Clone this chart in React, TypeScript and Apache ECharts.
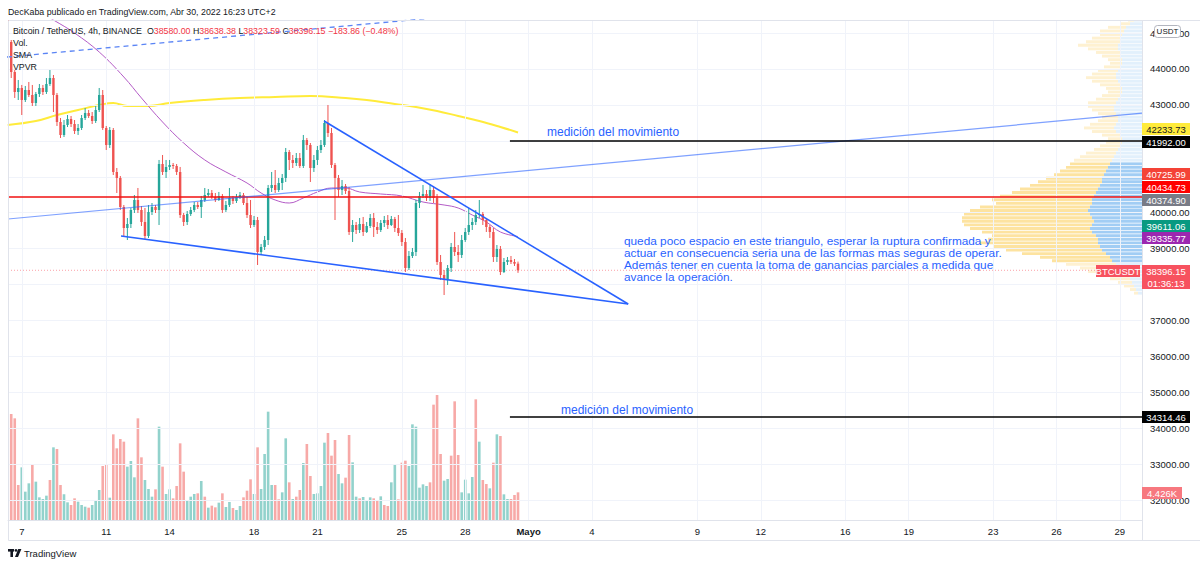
import React, { useEffect, useRef } from "react";
import * as echarts from "echarts";

// ---------- DATA (4h candles, index 0 = Apr 6 08:00) ----------
const FIRST_OPEN = 45420;
const closes = [
  44752, 43917, 43360, 43471, 43137, 43415, 43276, 43054, 43304, 43471,
  43360, 43582, 43749, 43276, 42524, 42163, 42441, 42608, 42469, 42274,
  42357, 42636, 42775, 42692, 42552, 42859, 43276, 42357, 41884, 42302,
  41133, 40966, 40158, 39573, 39685, 40075, 40353, 40075, 39741, 39351,
  40019, 40158, 40075, 41355, 41133, 41272, 41327, 41300, 41133, 39935,
  39741, 39963, 40075, 40214, 40158, 40353, 40492, 40548, 40437, 40353,
  40465, 40075, 40214, 40409, 40325, 40437, 40492, 40269, 39935, 39657,
  39796, 38905, 39045, 39239, 40687, 40771, 40631, 40826, 40966, 41689,
  41467, 41383, 41522, 41300, 42023, 41884, 41244, 41467, 41745, 41884,
  42497, 42218, 41327, 40966, 40631, 40743, 40604, 39462, 39657, 39518,
  39685, 39462, 39629, 39852, 39601, 39518, 39713, 39796, 39657, 39824,
  39573, 39434, 39184, 38460, 38794, 38905, 40269, 40465, 40520, 40409,
  40631, 40409, 38627, 38265, 38154, 38460, 39045, 38905, 38822, 39239,
  39462, 39657, 39741, 39935, 39963, 39796, 39601, 39462, 38766, 38989,
  38348, 38627, 38683, 38627, 38580, 38396.15,
];
const highs = [
  45503, 44807, 43972, 43694, 43555, 43527, 43638, 43555, 43360, 43582,
  43555, 43749, 43972, 43833, 43332, 42636, 42580, 42719, 42692, 42580,
  42469, 42719, 42914, 42859, 42803, 42970, 43471, 43415, 42413, 42385,
  42357, 41244, 41021, 40214, 39852, 40130, 40492, 40687, 40186, 40130,
  40214, 40269, 40214, 41467, 41606, 41467, 41467, 41383, 41355, 41272,
  39991, 40047, 40158, 40297, 40297, 40465, 40687, 40659, 40631, 40548,
  40576, 40520, 40325, 40687, 40465, 40520, 40576, 40548, 40437, 40353,
  39908, 39880, 39128, 39351, 40771, 41133, 41188, 40966, 41077, 41801,
  41745, 41606, 41661, 41661, 42163, 42079, 41940, 41606, 41856, 42023,
  42580, 42998, 42357, 41383, 41049, 40910, 40798, 40715, 39796, 39741,
  39852, 39880, 39741, 39963, 39991, 39741, 39796, 39908, 39935, 39908,
  39880, 39935, 39518, 39295, 38933, 39017, 40353, 40576, 40771, 40631,
  40798, 40743, 40520, 38822, 38404, 38543, 39156, 39462, 39100, 39379,
  39573, 40130, 39852, 40075, 40353, 40019, 39852, 39657, 39573, 39100,
  39072, 38738, 38766, 38794, 38710, 38638.38,
];
const lows = [
  44585, 43749, 43193, 43137, 42719, 43081, 43221, 42970, 42970, 43221,
  43276, 43304, 43527, 42803, 42413, 42079, 42107, 42385, 42385, 42190,
  42163, 42302, 42580, 42636, 42469, 42497, 42803, 42302, 41745, 41801,
  41049, 40548, 40075, 39323, 39239, 39573, 39991, 39991, 39629, 39267,
  39295, 39935, 39991, 39657, 41049, 40966, 41188, 41216, 41049, 39852,
  39629, 39657, 39908, 40019, 40102, 39852, 40297, 40437, 40381, 40297,
  40325, 39991, 40019, 40158, 40242, 40269, 40381, 40214, 39852, 39573,
  39601, 38543, 38850, 38961, 39100, 40576, 40548, 40576, 40631, 40854,
  41188, 41244, 41300, 41244, 41244, 41745, 40854, 41133, 41327, 41661,
  41829, 42107, 41244, 39796, 40437, 40492, 40520, 39379, 39184, 39406,
  39434, 39351, 39434, 39573, 39323, 39406, 39462, 39601, 39546, 39629,
  39462, 39351, 39072, 38348, 38404, 38738, 38794, 40130, 40409, 40325,
  40325, 40269, 38543, 38126, 37708, 37987, 38348, 38794, 38627, 38738,
  39184, 39379, 39518, 39657, 39852, 39657, 39462, 39295, 38627, 38627,
  38265, 38320, 38543, 38571, 38516, 38323.59,
];
const volumes = [
  7733, 16960, 16267, 5600, 8427, 4533, 5867, 8800, 6133, 3627,
  3360, 3893, 6400, 11627, 11360, 5600, 4107, 2827, 2400, 3467,
  2933, 2400, 2133, 1973, 2400, 3040, 4800, 8640, 8800, 3573,
  13707, 11467, 12960, 12533, 8533, 9440, 6827, 16267, 10027, 6400,
  4960, 3733, 4907, 14933, 8533, 4160, 4907, 3467, 5440, 12267,
  7733, 3200, 3733, 4160, 4267, 6240, 3733, 1973, 2293, 2027,
  2773, 4267, 2080, 2880, 1920, 1600, 2240, 3627, 4693, 6507,
  4160, 11627, 4960, 10560, 17333, 5600, 5600, 3307, 4427, 13067,
  6027, 3360, 3733, 4800, 9120, 12160, 7040, 4160, 4267, 5440,
  12373, 13920, 10293, 12800, 7360, 5867, 6773, 13600, 9227, 3733,
  3467, 3680, 3200, 3627, 3467, 3040, 3787, 2400, 2240, 6027,
  8960, 3307, 9173, 9493, 8640, 15307, 14933, 5173, 5707, 5440,
  6027, 18453, 20000, 10560, 6293, 6560, 10293, 18987, 10400, 4427,
  6453, 4267, 6880, 19307, 12533, 6400, 5760, 5067, 9173, 13707,
  13440, 4107, 3360, 3360, 4000, 4426,
];
const volumeUp = [
  0, 0, 0, 0, 1, 1, 1, 0, 1, 1,
  1, 1, 0, 1, 0, 0, 1, 1, 0, 0,
  1, 1, 1, 0, 1, 1, 1, 0, 0, 1,
  0, 0, 0, 0, 1, 1, 1, 0, 0, 1,
  1, 1, 0, 1, 0, 1, 1, 0, 0, 0,
  0, 1, 1, 1, 0, 1, 0, 1, 0, 0,
  1, 0, 1, 1, 0, 1, 1, 0, 0, 0,
  1, 0, 1, 1, 1, 1, 0, 0, 1, 1,
  0, 1, 0, 0, 1, 0, 0, 1, 1, 1,
  1, 0, 0, 0, 1, 1, 0, 0, 1, 1,
  0, 1, 1, 1, 0, 0, 1, 0, 0, 1,
  1, 0, 0, 0, 1, 1, 1, 1, 1, 1,
  0, 0, 0, 0, 1, 1, 0, 0, 0, 1,
  1, 1, 1, 0, 1, 0, 0, 1, 0, 1,
  0, 1, 1, 0, 0, 0,
];

// moving averages, sampled readings (candle index, price)
const smaFastK = [8, 13, 19, 26, 33, 38, 44, 50, 56, 62, 68, 72, 76, 80, 84, 88, 92, 96, 100, 106, 112, 118, 124, 128, 132, 136, 140, 145];
const smaFastV = [45650, 45364, 45002, 44473, 43777, 43193, 42524, 41940, 41467, 41133, 40826, 40548, 40353, 40269, 40409, 40576, 40687, 40687, 40576, 40520, 40465, 40297, 40214, 40130, 39935, 39741, 39462, 39335.77];
const smaSlowK = [0, 8, 14, 20, 26, 30, 34, 40, 46, 56, 66, 76, 86, 96, 102, 110, 116, 122, 128, 134, 140, 145];
const smaSlowV = [42441, 42552, 42719, 42859, 42998, 43054, 42970, 42970, 43054, 43137, 43193, 43221, 43249, 43193, 43137, 43026, 42942, 42831, 42692, 42552, 42385, 42233.73];

// drawings (candle index, price)
const triangleUpper = [[89.9, 42552], [176.3, 37458]];
const triangleLower = [[32.2, 39351], [176.3, 37458]];
const channelLine = [[0.085, 39824], [322.3, 42769]];
const channelDashed = [[-0.2, 44334], [122, 45431]];
const redLevel = 40434.73;
const lastPrice = 38396.15;
const targetUp = 41992.0;
const targetDown = 34314.46;
const targetStartK = 142.7;

// axis ticks (labels hidden under the price badges are left out of the label list)
const priceTicks = [32000, 33000, 34000, 35000, 36000, 37000, 38000, 39000, 40000, 41000, 42000, 43000, 44000, 45000];
const priceTickLabels = [32000, 33000, 34000, 35000, 36000, 37000, 39000, 40000, 43000, 44000, 45000];
const dayTickOffsets = [0, 4, 7, 11, 14, 18, 21, 24, 27, 32, 35, 39, 42, 46, 49, 52];
const dayTickLabels = ["7", "11", "14", "18", "21", "25", "28", "Mayo", "4", "9", "12", "16", "19", "23", "26", "29"];

// volume profile (rows of 100 USDT from the top)
const vpTopPrice = 45350;
const vpStep = 100;
const vpUp = [
  8, 12, 16, 18, 20, 22, 22, 24, 24, 22,
  22, 20, 20, 22, 24, 26, 26, 24, 22, 20,
  20, 22, 24, 26, 28, 28, 26, 24, 24, 26,
  28, 26, 22, 20, 20, 22, 24, 26, 28, 30,
  32, 34, 36, 38, 40, 40, 42, 44, 46, 48,
  50, 50, 52, 54, 52, 50, 48, 50, 52, 50,
  46, 44, 44, 42, 40, 36, 32, 30, 26, 22,
  20, 16, 12, 10, 8, 6, 4,
];
const vpDown = [
  6, 10, 18, 24, 22, 28, 34, 40, 30, 24,
  18, 14, 12, 16, 20, 24, 30, 26, 20, 16,
  14, 18, 22, 28, 26, 22, 18, 16, 20, 26,
  30, 24, 18, 14, 16, 20, 24, 30, 34, 38,
  40, 42, 46, 50, 56, 64, 70, 78, 84, 94,
  100, 96, 110, 118, 126, 130, 132, 128, 120, 110,
  104, 110, 118, 106, 96, 84, 70, 60, 50, 40,
  34, 26, 20, 14, 10, 6, 4,
];
const valueAreaHigh = 41400;
const valueAreaLow = 38600;

// texts
const headerText = "DecKaba publicado en TradingView.com, Abr 30, 2022 16:23 UTC+2";
const symbolText = "Bitcoin / TetherUS, 4h, BINANCE";
const ohlcText = { o: "38580.00", h: "38638.38", l: "38323.59", c: "38396.15", chg: "−183.86 (−0.48%)" };
const noteLines = [
  "queda poco espacio en este triangulo, esperar la ruptura confirmada y",
  "actuar en consecuencia seria una de las formas mas seguras de operar.",
  "Además tener en cuenta la toma de ganancias parciales a medida que",
  "avance la operación.",
];

// ---------- LAYOUT ----------
const FONT = '"Liberation Sans", Arial, sans-serif';
const GL = 8, GT = 20, GW = 1134, GH = 500;
const X_MIN = 0.085, X_MAX = 322.3;
const Y_MIN = 31444, Y_MAX = 45364;
const UP = "#26A69A", DOWN = "#EF5350";

export default function App() {
  const ref = useRef<HTMLDivElement>(null);
  useEffect(() => {
    if (!ref.current) return;
    const chart = echarts.init(ref.current, undefined, { renderer: "svg" });

    const tickK = dayTickOffsets.map((d) => 4 + 6 * d);
    const tickLabelMap: Record<string, string> = {};
    tickK.forEach((k, i) => (tickLabelMap[String(k)] = dayTickLabels[i]));

    const candleData = closes.map((c, i) => [i, i === 0 ? FIRST_OPEN : closes[i - 1], c, lows[i], highs[i]]);
    const volData = volumes.map((v, i) => [i, v, volumeUp[i]]);
    const vpData = vpUp.map((u, i) => [vpTopPrice - i * vpStep, u, vpDown[i]]);

    const lineS = (data: number[][], color: string, width: number, extra: any = {}) => ({
      type: "line",
      xAxisIndex: 0,
      yAxisIndex: 0,
      data,
      symbol: "none",
      showSymbol: false,
      silent: true,
      clip: true,
      lineStyle: { color, width, ...(extra.lineStyle || {}) },
      z: extra.z ?? 6,
      smooth: extra.smooth ?? false,
    });

    const badge = (text: string, y: number, bg: string, fg: string, x = 1142, w = 48) => ({
      type: "group",
      z: 100,
      children: [
        { type: "rect", z: 100, shape: { x, y: y - 6, width: w, height: 12 }, style: { fill: bg } },
        {
          type: "text", z: 101, x: x + w / 2, y,
          style: { text, fill: fg, fontSize: 9.5, fontFamily: FONT, align: "center", verticalAlign: "middle" },
        },
      ],
    });

    const option: any = {
      animation: false,
      backgroundColor: "#ffffff",
      textStyle: { fontFamily: FONT },
      grid: [
        { left: GL, top: GT, width: GW, height: GH, outerBoundsMode: "none" },
        { left: GL, top: 380, width: GW, height: 140, outerBoundsMode: "none" },
      ],
      xAxis: [
        {
          type: "value", gridIndex: 0, min: X_MIN, max: X_MAX, position: "bottom",
          axisLine: { show: true, lineStyle: { color: "#E0E3EB" } },
          axisTick: { show: false, customValues: tickK },
          splitLine: { show: false },
          axisLabel: {
            customValues: tickK, fontSize: 9.5, color: "#131722", margin: 6,
            formatter: (v: number) => {
              const s = tickLabelMap[String(Math.round(v))] || "";
              return s === "Mayo" ? "{b|Mayo}" : s;
            },
            rich: { b: { fontWeight: "bold", fontSize: 9.5, color: "#131722", fontFamily: FONT } },
          },
        },
        { type: "value", gridIndex: 1, min: X_MIN, max: X_MAX, show: false },
        { type: "value", gridIndex: 0, min: 0, max: GW, inverse: true, position: "top", show: false },
      ],
      yAxis: [
        {
          type: "value", gridIndex: 0, min: Y_MIN, max: Y_MAX, position: "right",
          axisLine: { show: false },
          axisTick: { show: false, customValues: priceTickLabels },
          splitLine: { show: false },
          axisLabel: {
            customValues: priceTickLabels, fontSize: 9.5, color: "#131722", margin: 8,
            formatter: (v: number) => v.toFixed(2),
          },
        },
        { type: "value", gridIndex: 1, min: 0, max: 22400, show: false },
      ],
      series: [
        {
          type: "line", xAxisIndex: 0, yAxisIndex: 0, data: [], silent: true, z: 0,
          markLine: {
            silent: true, symbol: ["none", "none"], label: { show: false },
            lineStyle: { color: "#F0F3FA", width: 1, type: "solid" },
            emphasis: { disabled: true },
            data: [...priceTicks.map((v) => ({ yAxis: v })), ...tickK.map((k) => ({ xAxis: k }))],
          },
        },
        {
          type: "custom", xAxisIndex: 2, yAxisIndex: 0, z: 1, clip: true, silent: true,
          data: vpData,
          encode: { x: [1, 2], y: 0 },
          renderItem: (_p: any, api: any) => {
            const price = api.value(0), u = api.value(1), d = api.value(2);
            const a = api.coord([0, price + vpStep / 2]);
            const b = api.coord([u, price - vpStep / 2]);
            const c = api.coord([u + d, price - vpStep / 2]);
            const inVA = price <= valueAreaHigh && price >= valueAreaLow;
            const h = Math.max(0.5, b[1] - a[1] - 0.7);
            return {
              type: "group",
              children: [
                { type: "rect", shape: { x: b[0], y: a[1], width: a[0] - b[0], height: h }, style: { fill: inVA ? "rgba(30,136,229,0.42)" : "rgba(30,136,229,0.13)" } },
                { type: "rect", shape: { x: c[0], y: a[1], width: b[0] - c[0], height: h }, style: { fill: inVA ? "rgba(251,192,45,0.45)" : "rgba(251,192,45,0.22)" } },
              ],
            };
          },
        },
        {
          type: "custom", xAxisIndex: 1, yAxisIndex: 1, z: 2, clip: true, silent: true,
          data: volData,
          encode: { x: 0, y: 1 },
          renderItem: (_p: any, api: any) => {
            const k = api.value(0), v = api.value(1), up = api.value(2);
            const p = api.coord([k, v]);
            const p0 = api.coord([k, 0]);
            return {
              type: "rect",
              shape: { x: p[0] - 1.3, y: p[1], width: 2.6, height: p0[1] - p[1] },
              style: { fill: up ? "rgba(38,166,154,0.5)" : "rgba(239,83,80,0.5)" },
            };
          },
        },
        lineS([[X_MIN, lastPrice], [X_MAX, lastPrice]], "rgba(247,82,95,0.55)", 1, { lineStyle: { type: [1, 2] }, z: 3 }),
        lineS(smaSlowK.map((k, i) => [k, smaSlowV[i]]), "#FFEB3B", 2, { smooth: 0.4, z: 4 }),
        lineS(smaFastK.map((k, i) => [k, smaFastV[i]]), "#B35BC6", 1, { smooth: 0.4, z: 4 }),
        {
          type: "custom", xAxisIndex: 0, yAxisIndex: 0, z: 5, clip: true, silent: true,
          data: candleData,
          encode: { x: 0, y: [1, 2, 3, 4] },
          renderItem: (_p: any, api: any) => {
            const k = api.value(0), o = api.value(1), c = api.value(2);
            const l = Math.min(api.value(3), o, c), h = Math.max(api.value(4), o, c);
            const color = c >= o ? UP : DOWN;
            const pO = api.coord([k, o]), pC = api.coord([k, c]);
            const pL = api.coord([k, l]), pH = api.coord([k, h]);
            const top = Math.min(pO[1], pC[1]);
            const bh = Math.max(1, Math.abs(pO[1] - pC[1]));
            return {
              type: "group",
              children: [
                { type: "line", shape: { x1: pO[0], y1: pH[1], x2: pO[0], y2: pL[1] }, style: { stroke: color, lineWidth: 1 } },
                { type: "rect", shape: { x: pO[0] - 1.2, y: top, width: 2.4, height: bh }, style: { fill: color } },
              ],
            };
          },
        },
        lineS([[X_MIN, redLevel], [X_MAX, redLevel]], "#F01010", 1.5, { z: 6 }),
        lineS(channelLine, "rgba(41,98,255,0.6)", 1.2, { z: 7 }),
        lineS(channelDashed, "#5A84F5", 1.3, { lineStyle: { type: [5, 4] }, z: 7 }),
        lineS(triangleUpper, "#2962FF", 1.6, { z: 8 }),
        lineS(triangleLower, "#2962FF", 1.6, { z: 8 }),
        lineS([[targetStartK, targetUp], [X_MAX, targetUp]], "#000000", 1.5, { z: 8 }),
        lineS([[targetStartK, targetDown], [X_MAX, targetDown]], "#000000", 1.5, { z: 8 }),
      ],
      graphic: [
        { type: "rect", z: 90, shape: { x: 8.5, y: 20.5, width: 1192, height: 520 }, style: { fill: "none", stroke: "#E0E3EB", lineWidth: 1 } },
        { type: "line", z: 90, shape: { x1: 1142.5, y1: 20, x2: 1142.5, y2: 541 }, style: { stroke: "#E0E3EB", lineWidth: 1 } },
        {
          type: "text", z: 100, x: 8, y: 12,
          style: { text: headerText, fill: "#131722", fontSize: 8.8, fontFamily: FONT, verticalAlign: "middle" },
        },
        {
          type: "text", z: 100, x: 13, y: 31,
          style: {
            text: `{d|${symbolText}}  {d|O}{r|${ohlcText.o}} {d|H}{r|${ohlcText.h}} {d|L}{r|${ohlcText.l}} {d|C}{r|${ohlcText.c}} {r|${ohlcText.chg}}`,
            fontSize: 8.8, fontFamily: FONT, verticalAlign: "middle",
            rich: {
              d: { fill: "#131722", fontSize: 8.8, fontFamily: FONT },
              r: { fill: "#F23645", fontSize: 8.8, fontFamily: FONT },
            },
          },
        },
        { type: "text", z: 100, x: 13, y: 43, style: { text: "Vol.", fill: "#131722", fontSize: 8.8, fontFamily: FONT, verticalAlign: "middle" } },
        { type: "text", z: 100, x: 13, y: 55, style: { text: "SMA", fill: "#131722", fontSize: 8.8, fontFamily: FONT, verticalAlign: "middle" } },
        { type: "text", z: 100, x: 13, y: 67, style: { text: "VPVR", fill: "#131722", fontSize: 8.8, fontFamily: FONT, verticalAlign: "middle" } },
        { type: "text", z: 100, x: 547, y: 132, style: { text: "medición del movimiento", fill: "#2962FF", fontSize: 12, fontFamily: FONT, verticalAlign: "middle" } },
        { type: "text", z: 100, x: 561, y: 410, style: { text: "medición del movimiento", fill: "#2962FF", fontSize: 12, fontFamily: FONT, verticalAlign: "middle" } },
        {
          type: "text", z: 100, x: 624, y: 235,
          style: { text: noteLines.join("\n"), fill: "#2962FF", fontSize: 11.8, lineHeight: 12, fontFamily: FONT, verticalAlign: "top" },
        },
        // USDT currency badge
        { type: "rect", z: 100, shape: { x: 1154.5, y: 25.5, width: 26, height: 12, r: 3 }, style: { fill: "#ffffff", stroke: "#B2B5BE", lineWidth: 1 } },
        { type: "text", z: 101, x: 1167.5, y: 31.5, style: { text: "USDT", fill: "#131722", fontSize: 8, fontFamily: FONT, align: "center", verticalAlign: "middle" } },
        badge("42233.73", 129, "#FFEB3B", "#131722"),
        badge("41992.00", 142, "#000000", "#ffffff"),
        badge("40725.99", 174, "#F44336", "#ffffff"),
        badge("40434.73", 187, "#FF0000", "#ffffff"),
        badge("40374.90", 200, "#787B86", "#ffffff"),
        badge("39611.06", 226, "#089981", "#ffffff"),
        badge("39335.77", 238, "#9C27B0", "#ffffff"),
        { type: "rect", z: 100, shape: { x: 1142, y: 265, width: 48, height: 24 }, style: { fill: "#F7525F" } },
        { type: "text", z: 101, x: 1166, y: 271, style: { text: "38396.15", fill: "#fff", fontSize: 9.5, fontFamily: FONT, align: "center", verticalAlign: "middle" } },
        { type: "text", z: 101, x: 1166, y: 283, style: { text: "01:36:13", fill: "#fff", fontSize: 9.5, fontFamily: FONT, align: "center", verticalAlign: "middle" } },
        badge("BTCUSDT", 271, "#F7525F", "#ffffff", 1096, 44),
        badge("34314.46", 417, "#000000", "#ffffff"),
        badge("4.426K", 493, "#F7787F", "#ffffff", 1142, 40),
        // footer logo
        { type: "rect", z: 100, shape: { x: 8, y: 549, width: 6, height: 2.6 }, style: { fill: "#131722" } },
        { type: "rect", z: 100, shape: { x: 10.4, y: 549, width: 2.6, height: 8 }, style: { fill: "#131722" } },
        { type: "circle", z: 100, shape: { cx: 16, cy: 550.4, r: 1.4 }, style: { fill: "#131722" } },
        { type: "polygon", z: 100, shape: { points: [[18.2, 549], [21.4, 549], [18, 557], [15, 557]] }, style: { fill: "#131722" } },
        { type: "text", z: 100, x: 24, y: 553, style: { text: "TradingView", fill: "#131722", fontSize: 9.5, fontFamily: FONT, verticalAlign: "middle" } },
      ],
    };

    chart.setOption(option);
    return () => chart.dispose();
  }, []);

  return (
    <div
      ref={ref}
      style={{ position: "fixed", left: 0, top: 0, width: 1200, height: 566, background: "#fff" }}
    />
  );
}
